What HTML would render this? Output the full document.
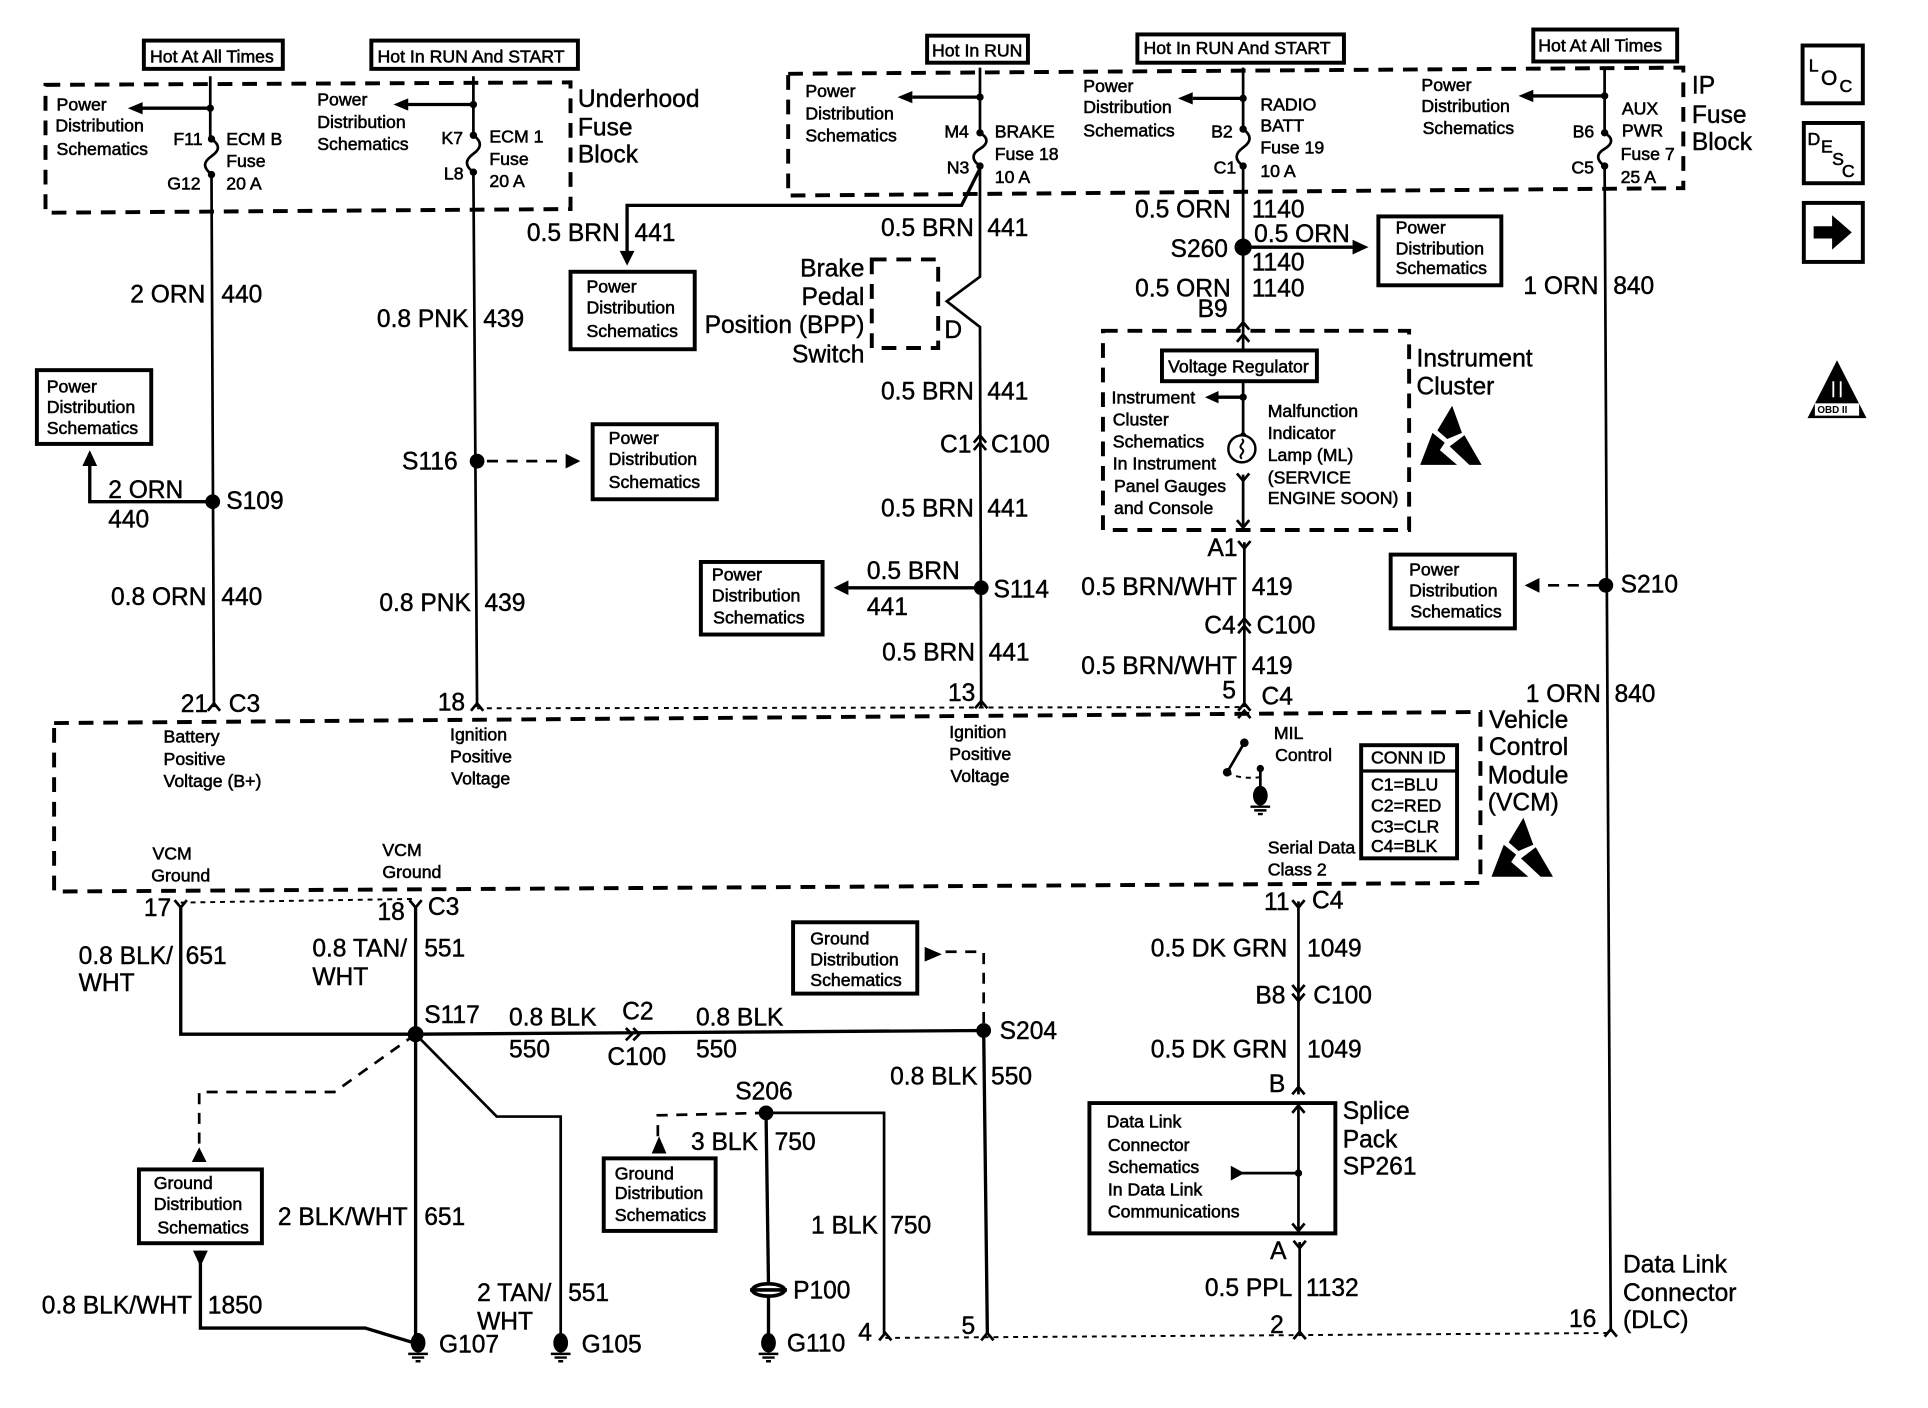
<!DOCTYPE html>
<html><head><meta charset="utf-8"><title>VCM wiring diagram</title>
<style>
html,body{margin:0;padding:0;background:#fff}
svg{display:block}
text{font-family:"Liberation Sans",sans-serif;fill:#000}
.s{font-size:14.4px;stroke:#000;stroke-width:.45px}
.l{font-size:20px;stroke:#000;stroke-width:.35px}
.e{text-anchor:end}
.w{fill:none;stroke:#000;stroke-width:2.2}
.t{fill:none;stroke:#000;stroke-width:2.7}
.d{fill:none;stroke:#000;stroke-width:3.2;stroke-dasharray:12 8}
.f{fill:none;stroke:#000;stroke-width:2.2;stroke-dasharray:9 7}
.m{fill:none;stroke:#000;stroke-width:1.6;stroke-dasharray:4 4}
.b{fill:#fff;stroke:#000;stroke-width:3.2}
</style></head><body>
<svg xmlns="http://www.w3.org/2000/svg" width="1928" height="1408" viewBox="0 0 1568 1145" preserveAspectRatio="none">
<defs>
<g id="u"><polyline points="-5,6 0,0 5,6" class="w"/></g>
<g id="y"><polyline points="-5,-6 0,0 5,-6" class="w"/></g>
<g id="g"><ellipse cx="0" cy="-3" rx="6" ry="8" fill="#000"/><path d="M-8,6H8M-5,9H5M-2,12H2" stroke="#000" stroke-width="2"/></g>
<g id="esd"><polygon points="26,0 34,22 22,27 14,20" fill="#000"/><polygon points="10,22 0,48 30,48 16,36 20,30" fill="#000"/><polygon points="36,24 50,48 40,48 24,33" fill="#000"/></g>
</defs>

<!-- dashed enclosures -->
<polygon points="37,69 464,67 464,170 37,173" class="d"/>
<polygon points="641,60 1369,55 1369,153 641,159" class="d"/>
<rect x="709" y="211" width="54" height="72" class="d"/>
<rect x="897" y="269" width="249" height="162" class="d"/>
<polygon points="44,588 1204,579 1204,718 44,725" class="d"/>

<!-- main wires -->
<path d="M171,62V113M172,142L174,575" class="w"/>
<path d="M385,62V110M385,140L388,575" class="w"/>
<path d="M797,55V108M797,135V225L770,245L797,266L798,575" class="w"/>
<path d="M1011,55V105M1011,135V285M1011,310V352M1011,386V430M1012,441V575" class="w"/>
<path d="M1305,55V108M1305,135L1310,1083" class="w"/>
<path d="M1056,733V890M1057,1010V1085" class="w"/>
<path d="M147,737V841H338M338,737V1090M338,841L800,838L803,1085" class="t"/>
<path d="M338,841L404,908H456V1090" class="w"/>
<path d="M623,905H719V1085" class="w"/>
<path d="M623,905L625,1045M625,1055V1090" class="t"/>
<path d="M163,1017V1080H297L340,1093" class="t"/>
<path d="M797,137L782,167H510V210" class="t"/>
<path d="M173,408H73V375" class="t"/>
<path d="M798,478H690" class="t"/>
<path d="M1011,201H1100" class="t"/>
<path d="M171,88H115M385,85H331M797,79H742M1011,80H970M1305,78H1246M1011,323H990" class="t"/>

<!-- arrowheads -->
<g fill="#000">
<polygon points="104,88 116,83 116,93"/><polygon points="320,85 332,80 332,90"/>
<polygon points="730,79 742,74 742,84"/><polygon points="958,80 970,75 970,85"/>
<polygon points="1235,78 1247,73 1247,83"/><polygon points="980,323 991,318 991,328"/>
<polygon points="73,366 67,379 79,379"/><polygon points="510,216 504,204 516,204"/>
<polygon points="678,478 690,472 690,484"/><polygon points="1113,201 1100,195 1100,207"/>
<polygon points="472,375 460,369 460,381"/><polygon points="1240,476 1252,470 1252,482"/>
<polygon points="162,933 156,945 168,945"/><polygon points="536,924 530,938 542,938"/>
<polygon points="163,1030 157,1017 169,1017"/><polygon points="752,770 752,782 766,776"/>
<polygon points="1001,948 1001,960 1012,954"/>
<!-- dots -->
<circle cx="173" cy="408" r="6"/><circle cx="388" cy="375" r="6"/><circle cx="798" cy="478" r="6"/>
<circle cx="1011" cy="201" r="7"/><circle cx="1306" cy="476" r="6"/><circle cx="338" cy="841" r="6.5"/>
<circle cx="800" cy="838" r="6"/><circle cx="623" cy="905" r="6"/>
<circle cx="171" cy="88" r="3"/><circle cx="385" cy="85" r="3"/><circle cx="797" cy="79" r="3"/><circle cx="1011" cy="80" r="3"/><circle cx="1305" cy="78" r="3"/>
<circle cx="172" cy="113" r="3"/><circle cx="172" cy="142" r="3"/><circle cx="385" cy="110" r="3"/><circle cx="385" cy="140" r="3"/>
<circle cx="797" cy="108" r="3"/><circle cx="797" cy="135" r="3"/><circle cx="1011" cy="105" r="3"/><circle cx="1011" cy="135" r="3"/>
<circle cx="1305" cy="108" r="3"/><circle cx="1305" cy="135" r="3"/>
<circle cx="1011" cy="323" r="3"/><circle cx="1056" cy="954" r="3"/>
<circle cx="1012" cy="604" r="3.5"/><circle cx="998" cy="628" r="3.5"/><circle cx="1025" cy="625" r="3"/>
</g>

<!-- fuses -->
<g fill="none" stroke="#000" stroke-width="2.2">
<path d="M172,113c7,5 7,9 0,14c-7,5 -7,9 0,15"/><path d="M385,110c7,5 7,10 0,15c-7,5 -7,10 0,15"/>
<path d="M797,108c7,4 7,9 0,13c-7,4 -7,9 0,14"/><path d="M1011,105c7,5 7,10 0,15c-7,5 -7,10 0,15"/>
<path d="M1305,108c7,4 7,9 0,13c-7,4 -7,9 0,14"/>
</g>

<!-- dashed connectors -->
<path d="M396,375H460" class="f"/><path d="M1300,476H1252" class="f"/>
<path d="M800,832V774H766" class="f"/><path d="M338,841L272,888H162V945" class="f"/>
<path d="M623,905L535,907V925" class="f"/>
<path d="M1012,604L998,628" class="w"/><path d="M998,628Q1008,634 1025,632" class="m"/><path d="M1025,625V646" class="w"/>
<path d="M388,576L1012,575" class="m"/><path d="M147,734L338,731" class="m"/><path d="M720,1088L1310,1084" class="m"/>

<!-- chevrons -->
<use href="#u" x="174" y="572"/><use href="#u" x="388" y="572"/><use href="#u" x="798" y="570"/><use href="#u" x="1012" y="572"/><use href="#u" x="1012" y="578"/>
<use href="#u" x="797" y="354"/><use href="#u" x="797" y="360"/><use href="#u" x="1012" y="503"/><use href="#u" x="1012" y="509"/>
<use href="#u" x="1011" y="262"/><use href="#u" x="1011" y="272"/><use href="#u" x="1011" y="352"/><use href="#y" x="1011" y="391"/><use href="#y" x="1011" y="429"/>
<use href="#y" x="1012" y="446"/><use href="#y" x="147" y="738"/><use href="#y" x="338" y="738"/><use href="#y" x="1056" y="738"/>
<use href="#y" x="1056" y="807"/><use href="#y" x="1056" y="814"/><use href="#u" x="1056" y="884"/><use href="#u" x="1056" y="899"/><use href="#y" x="1056" y="1001"/><use href="#y" x="1057" y="1015"/>
<use href="#u" x="720" y="1084"/><use href="#u" x="803" y="1084"/><use href="#u" x="1057" y="1083"/><use href="#u" x="1310" y="1081"/>
<path d="M509,836l5,5l-5,5M515,836l5,5l-5,5" class="w"/>

<!-- bulb & grounds -->
<circle cx="1010" cy="365" r="11" fill="#fff" stroke="#000" stroke-width="2"/>
<path d="M1010,357c4,3 -4,5 0,8c4,3 -4,5 0,8" fill="none" stroke="#000" stroke-width="1.6"/>
<use href="#g" x="340" y="1095"/><use href="#g" x="456" y="1095"/><use href="#g" x="625" y="1095"/><use href="#g" x="1025" y="650"/>
<g fill="none" stroke="#000" stroke-width="3"><ellipse cx="625" cy="1049" rx="13" ry="5"/><path d="M610,1049H640"/></g>

<!-- boxes -->
<g fill="#fff" stroke="#000" stroke-width="3.2">
<rect x="117" y="33" width="113" height="23"/><rect x="302" y="33" width="168" height="23"/>
<rect x="754" y="29" width="82" height="22"/><rect x="925" y="28" width="168" height="23"/><rect x="1247" y="24" width="117" height="26"/>
<rect x="30" y="301" width="93" height="60"/><rect x="482" y="345" width="101" height="61"/><rect x="464" y="221" width="101" height="63"/>
<rect x="570" y="457" width="99" height="59"/><rect x="1121" y="176" width="100" height="56"/><rect x="1131" y="451" width="101" height="60"/>
<rect x="945" y="285" width="126" height="25"/><rect x="1107" y="606" width="78" height="92"/>
<rect x="645" y="750" width="101" height="58"/><rect x="113" y="951" width="100" height="60"/><rect x="491" y="942" width="91" height="59"/>
<rect x="1466" y="37" width="49" height="47"/><rect x="1467" y="100" width="48" height="49"/><rect x="1467" y="165" width="48" height="48"/>
</g>
<path d="M886,897H1086V1003H886Z" fill="none" stroke="#000" stroke-width="3.2"/>
<path d="M1107,627H1185" class="t"/>
<path d="M1056,900V1000M1056,954H1005" class="w"/>
<polygon points="1475,184 1490,184 1490,175 1506,189 1490,203 1490,194 1475,194" fill="#000"/>
<polygon points="1494,293 1470,340 1518,340" fill="#000"/>
<rect x="1476" y="328" width="36" height="10" fill="#fff"/><path d="M1491,310V323M1497,310V323" stroke="#fff" stroke-width="1.5"/>
<use href="#esd" x="1155" y="330"/><use href="#esd" x="1213" y="665"/>

<!-- small labels -->
<g class="s">
<text x="122" y="51">Hot At All Times</text><text x="307" y="51">Hot In RUN And START</text><text x="758" y="46">Hot In RUN</text>
<text x="930" y="44">Hot In RUN And START</text><text x="1251" y="42">Hot At All Times</text>
<text x="46" y="90">Power</text><text x="45" y="107">Distribution</text><text x="46" y="126">Schematics</text>
<text x="258" y="86">Power</text><text x="258" y="104">Distribution</text><text x="258" y="122">Schematics</text>
<text x="655" y="79">Power</text><text x="655" y="97">Distribution</text><text x="655" y="115">Schematics</text>
<text x="881" y="75">Power</text><text x="881" y="92">Distribution</text><text x="881" y="111">Schematics</text>
<text x="1156" y="74">Power</text><text x="1156" y="91">Distribution</text><text x="1157" y="109">Schematics</text>
<text x="141" y="118">F11</text><text x="136" y="154">G12</text><text x="184" y="118">ECM B</text><text x="184" y="136">Fuse</text><text x="184" y="154">20 A</text>
<text x="359" y="117">K7</text><text x="361" y="146">L8</text><text x="398" y="116">ECM 1</text><text x="398" y="134">Fuse</text><text x="398" y="152">20 A</text>
<text x="768" y="112">M4</text><text x="770" y="141">N3</text><text x="809" y="112">BRAKE</text><text x="809" y="130">Fuse 18</text><text x="809" y="149">10 A</text>
<text x="985" y="112">B2</text><text x="987" y="141">C1</text><text x="1025" y="90">RADIO</text><text x="1025" y="107">BATT</text><text x="1025" y="125">Fuse 19</text><text x="1025" y="144">10 A</text>
<text x="1279" y="112">B6</text><text x="1278" y="141">C5</text><text x="1319" y="93">AUX</text><text x="1319" y="111">PWR</text><text x="1318" y="130">Fuse 7</text><text x="1318" y="149">25 A</text>
<text x="38" y="319">Power</text><text x="38" y="336">Distribution</text><text x="38" y="353">Schematics</text>
<text x="495" y="361">Power</text><text x="495" y="378">Distribution</text><text x="495" y="397">Schematics</text>
<text x="477" y="238">Power</text><text x="477" y="255">Distribution</text><text x="477" y="274">Schematics</text>
<text x="579" y="472">Power</text><text x="579" y="489">Distribution</text><text x="580" y="507">Schematics</text>
<text x="1135" y="190">Power</text><text x="1135" y="207">Distribution</text><text x="1135" y="223">Schematics</text>
<text x="1146" y="468">Power</text><text x="1146" y="485">Distribution</text><text x="1147" y="502">Schematics</text>
<text x="950" y="303">Voltage Regulator</text>
<text x="904" y="328">Instrument</text><text x="905" y="346">Cluster</text><text x="905" y="364">Schematics</text><text x="905" y="382">In Instrument</text><text x="906" y="400">Panel Gauges</text><text x="906" y="418">and Console</text>
<text x="1031" y="339">Malfunction</text><text x="1031" y="357">Indicator</text><text x="1031" y="375">Lamp (ML)</text><text x="1031" y="393">(SERVICE</text><text x="1031" y="410">ENGINE SOON)</text>
<text x="133" y="604">Battery</text><text x="133" y="622">Positive</text><text x="133" y="640">Voltage (B+)</text>
<text x="366" y="602">Ignition</text><text x="366" y="620">Positive</text><text x="367" y="638">Voltage</text>
<text x="772" y="600">Ignition</text><text x="772" y="618">Positive</text><text x="773" y="636">Voltage</text>
<text x="124" y="699">VCM</text><text x="123" y="717">Ground</text><text x="311" y="696">VCM</text><text x="311" y="714">Ground</text>
<text x="1036" y="601">MIL</text><text x="1037" y="619">Control</text><text x="1031" y="694">Serial Data</text><text x="1031" y="712">Class 2</text>
<text x="1115" y="621">CONN ID</text><text x="1115" y="643">C1=BLU</text><text x="1115" y="660">C2=RED</text><text x="1115" y="677">C3=CLR</text><text x="1115" y="693">C4=BLK</text>
<text x="659" y="768">Ground</text><text x="659" y="785">Distribution</text><text x="659" y="802">Schematics</text>
<text x="125" y="967">Ground</text><text x="125" y="984">Distribution</text><text x="128" y="1003">Schematics</text>
<text x="500" y="959">Ground</text><text x="500" y="975">Distribution</text><text x="500" y="993">Schematics</text>
<text x="900" y="917">Data Link</text><text x="901" y="936">Connector</text><text x="901" y="954">Schematics</text><text x="901" y="972">In Data Link</text><text x="901" y="990">Communications</text>
<text x="1471" y="58">L</text><text x="1481" y="69" font-size="17">O</text><text x="1496" y="75">C</text>
<text x="1470" y="118">D</text><text x="1481" y="124">E</text><text x="1490" y="134">S</text><text x="1498" y="144">C</text>
</g>
<text x="1478" y="336" style="font-size:8px;font-weight:bold">OBD II</text>

<!-- large labels -->
<g class="l">
<text x="470" y="87">Underhood</text><text x="470" y="110">Fuse</text><text x="470" y="132">Block</text>
<text x="1376" y="76">IP</text><text x="1376" y="100">Fuse</text><text x="1376" y="122">Block</text>
<text x="1152" y="298">Instrument</text><text x="1152" y="321">Cluster</text>
<text x="1211" y="592">Vehicle</text><text x="1211" y="614">Control</text><text x="1210" y="637">Module</text><text x="1210" y="659">(VCM)</text>
<text x="1092" y="910">Splice</text><text x="1092" y="933">Pack</text><text x="1092" y="955">SP261</text>
<text x="1320" y="1035">Data Link</text><text x="1320" y="1058">Connector</text><text x="1320" y="1080">(DLC)</text>
<text x="703" y="225" class="e">Brake</text><text x="703" y="248" class="e">Pedal</text><text x="703" y="271" class="e">Position (BPP)</text><text x="703" y="295" class="e">Switch</text><text x="768" y="275">D</text>
<text x="167" y="246" class="e">2 ORN</text><text x="180" y="246">440</text>
<text x="381" y="266" class="e">0.8 PNK</text><text x="393" y="266">439</text>
<text x="88" y="405">2 ORN</text><text x="88" y="429">440</text><text x="184" y="414">S109</text>
<text x="168" y="492" class="e">0.8 ORN</text><text x="180" y="492">440</text>
<text x="383" y="497" class="e">0.8 PNK</text><text x="394" y="497">439</text><text x="327" y="382">S116</text>
<text x="147" y="579">21</text><text x="186" y="579">C3</text><text x="356" y="578">18</text>
<text x="504" y="196" class="e">0.5 BRN</text><text x="516" y="196">441</text>
<text x="792" y="192" class="e">0.5 BRN</text><text x="803" y="192">441</text>
<text x="792" y="325" class="e">0.5 BRN</text><text x="803" y="325">441</text>
<text x="790" y="368" class="e">C1</text><text x="806" y="368">C100</text>
<text x="792" y="420" class="e">0.5 BRN</text><text x="803" y="420">441</text>
<text x="705" y="471">0.5 BRN</text><text x="705" y="500">441</text><text x="808" y="486">S114</text>
<text x="793" y="537" class="e">0.5 BRN</text><text x="804" y="537">441</text><text x="771" y="570">13</text>
<text x="1001" y="177" class="e">0.5 ORN</text><text x="1018" y="177">1140</text>
<text x="952" y="209">S260</text><text x="1020" y="197">0.5 ORN</text><text x="1018" y="220">1140</text>
<text x="1001" y="241" class="e">0.5 ORN</text><text x="1018" y="241">1140</text><text x="974" y="258">B9</text>
<text x="982" y="452">A1</text>
<text x="1006" y="484" class="e">0.5 BRN/WHT</text><text x="1018" y="484">419</text>
<text x="1005" y="515" class="e">C4</text><text x="1022" y="515">C100</text>
<text x="1006" y="548" class="e">0.5 BRN/WHT</text><text x="1018" y="548">419</text>
<text x="994" y="568">5</text><text x="1026" y="573">C4</text>
<text x="1300" y="239" class="e">1 ORN</text><text x="1312" y="239">840</text>
<text x="1318" y="482">S210</text>
<text x="1302" y="571" class="e">1 ORN</text><text x="1313" y="571">840</text>
<text x="117" y="745">17</text><text x="307" y="748">18</text><text x="348" y="744">C3</text>
<text x="64" y="784">0.8 BLK/</text><text x="64" y="806">WHT</text><text x="151" y="784">651</text>
<text x="254" y="778">0.8 TAN/</text><text x="254" y="801">WHT</text><text x="345" y="778">551</text>
<text x="345" y="832">S117</text><text x="414" y="834">0.8 BLK</text><text x="414" y="860">550</text>
<text x="506" y="829">C2</text><text x="494" y="866">C100</text><text x="566" y="834">0.8 BLK</text><text x="566" y="860">550</text>
<text x="813" y="845">S204</text><text x="795" y="882" class="e">0.8 BLK</text><text x="806" y="882">550</text>
<text x="226" y="996">2 BLK/WHT</text><text x="345" y="996">651</text>
<text x="34" y="1068">0.8 BLK/WHT</text><text x="169" y="1068">1850</text>
<text x="388" y="1058">2 TAN/</text><text x="388" y="1081">WHT</text><text x="462" y="1058">551</text>
<text x="357" y="1100">G107</text><text x="473" y="1100">G105</text><text x="640" y="1099">G110</text><text x="645" y="1056">P100</text>
<text x="598" y="894">S206</text><text x="562" y="935">3 BLK</text><text x="630" y="935">750</text>
<text x="714" y="1003" class="e">1 BLK</text><text x="724" y="1003">750</text>
<text x="698" y="1090">4</text><text x="782" y="1085">5</text>
<text x="1028" y="740">11</text><text x="1067" y="739">C4</text>
<text x="1047" y="778" class="e">0.5 DK GRN</text><text x="1063" y="778">1049</text>
<text x="1021" y="816">B8</text><text x="1068" y="816">C100</text>
<text x="1047" y="860" class="e">0.5 DK GRN</text><text x="1063" y="860">1049</text>
<text x="1032" y="888">B</text><text x="1033" y="1024">A</text>
<text x="1051" y="1054" class="e">0.5 PPL</text><text x="1062" y="1054">1132</text>
<text x="1033" y="1084">2</text><text x="1276" y="1079">16</text>
</g>
</svg>
</body></html>
